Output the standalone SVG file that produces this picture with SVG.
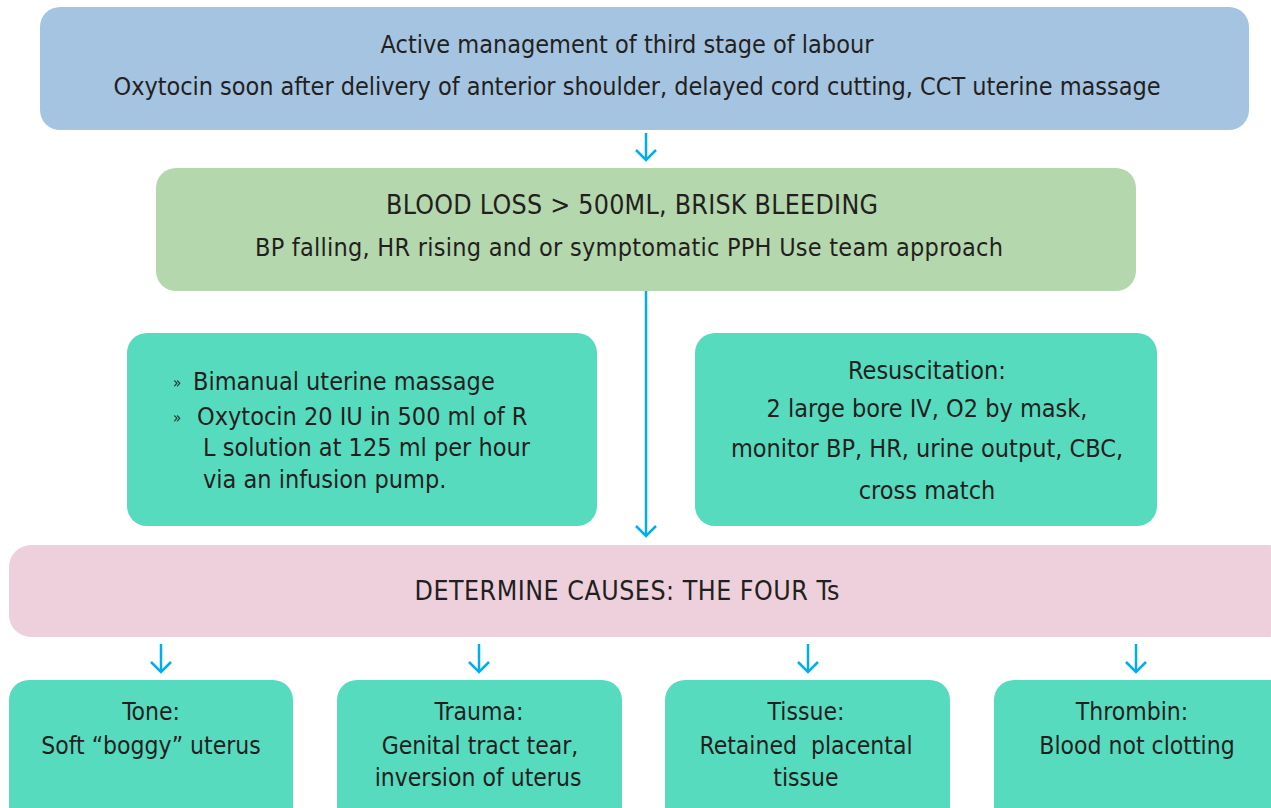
<svg xmlns="http://www.w3.org/2000/svg" width="1271" height="808" viewBox="0 0 1271 808">
<defs>
<style>
text{font-family:"DejaVu Sans Condensed","DejaVu Sans",sans-serif;font-size:25px;fill:#231f20;}
.c{text-anchor:middle;}
.s{font-size:24.5px;}
.k{font-size:26.5px;}
.b{font-size:15px;}
.arr{stroke:#00aeef;stroke-width:2.5;fill:none;}
</style>
<marker id="ah" viewBox="0 0 20 24" refX="11" refY="12" markerWidth="20" markerHeight="24" markerUnits="userSpaceOnUse" orient="auto">
<path d="M1,2 L11,12 L1,22" fill="none" stroke="#00aeef" stroke-width="2.5"/>
</marker>
</defs>
<rect width="1271" height="808" fill="#ffffff"/>
<g id="connectors">
<line class="arr" x1="646" y1="133" x2="646" y2="160" marker-end="url(#ah)"/>
<line class="arr" x1="646" y1="291" x2="646" y2="536" marker-end="url(#ah)"/>
<line class="arr" x1="161" y1="644" x2="161" y2="672" marker-end="url(#ah)"/>
<line class="arr" x1="479" y1="644" x2="479" y2="672" marker-end="url(#ah)"/>
<line class="arr" x1="808" y1="644" x2="808" y2="672" marker-end="url(#ah)"/>
<line class="arr" x1="1136" y1="644" x2="1136" y2="672" marker-end="url(#ah)"/>
</g>
<g id="active">
<rect x="40" y="7" width="1209" height="123" rx="20" fill="#a5c4e1"/>
<text class="c" x="627" y="53">Active management of third stage of labour</text>
<text class="c" x="637" y="95" textLength="1047">Oxytocin soon after delivery of anterior shoulder, delayed cord cutting, CCT uterine massage</text>
</g>
<g id="bloodloss">
<rect x="156" y="168" width="980" height="123" rx="20" fill="#b5d7ad"/>
<text class="c k" x="632" y="214" textLength="492">BLOOD LOSS &gt; 500ML, BRISK BLEEDING</text>
<text class="c" x="629" y="256" textLength="748">BP falling, HR rising and or symptomatic PPH Use team approach</text>
</g>
<g id="massage">
<rect x="127" y="333" width="470" height="193" rx="20" fill="#56dbbf"/>
<text class="b" x="173" y="388">»</text>
<text x="193" y="390">Bimanual uterine massage</text>
<text class="b" x="173" y="423">»</text>
<text x="197" y="425">Oxytocin 20 IU in 500 ml of R</text>
<text x="203" y="456">L solution at 125 ml per hour</text>
<text x="203" y="488">via an infusion pump.</text>
</g>
<g id="resus">
<rect x="695" y="333" width="462" height="193" rx="20" fill="#56dbbf"/>
<text class="c" x="927" y="379">Resuscitation:</text>
<text class="c" x="927" y="417">2 large bore IV, O2 by mask,</text>
<text class="c" x="927" y="457">monitor BP, HR, urine output, CBC,</text>
<text class="c" x="927" y="499">cross match</text>
</g>
<g id="causes">
<rect x="9" y="545" width="1280" height="92" rx="22" fill="#edd0dc"/>
<text class="c k" x="627" y="600" textLength="425">DETERMINE CAUSES: THE FOUR Ts</text>
</g>
<g id="tone">
<rect x="9" y="680" width="284" height="150" rx="20" fill="#56dbbf"/>
<text class="c s" x="151" y="720">Tone:</text>
<text class="c s" x="151" y="754">Soft “boggy” uterus</text>
</g>
<g id="trauma">
<rect x="337" y="680" width="285" height="150" rx="20" fill="#56dbbf"/>
<text class="c s" x="479" y="720">Trauma:</text>
<text class="c s" x="480" y="754">Genital tract tear,</text>
<text class="c s" x="478" y="786">inversion of uterus</text>
</g>
<g id="tissue">
<rect x="665" y="680" width="285" height="150" rx="20" fill="#56dbbf"/>
<text class="c s" x="806" y="720">Tissue:</text>
<text class="c s" x="806" y="754" style="white-space:pre">Retained  placental</text>
<text class="c s" x="806" y="786">tissue</text>
</g>
<g id="thrombin">
<rect x="994" y="680" width="300" height="150" rx="20" fill="#56dbbf"/>
<text class="c s" x="1132" y="720">Thrombin:</text>
<text class="c s" x="1137" y="754">Blood not clotting</text>
</g>
</svg>
